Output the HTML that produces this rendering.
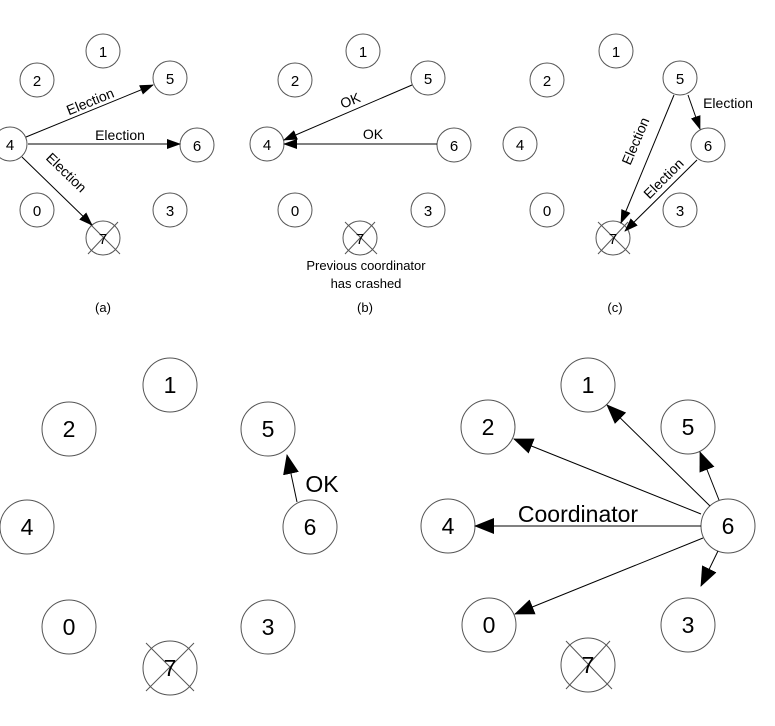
<!DOCTYPE html>
<html><head><style>body{margin:0;background:#fff}svg{display:block}text{font-family:"Liberation Sans",Arial,sans-serif;fill:#000}</style></head>
<body>
<svg width="775" height="726" viewBox="0 0 775 726" xmlns="http://www.w3.org/2000/svg">
<defs>
<marker id="s" markerUnits="userSpaceOnUse" markerWidth="14" markerHeight="12" refX="13" refY="5" orient="auto"><path d="M0,0 L14,5 L0,10 z" fill="#000"/></marker>
<marker id="b" markerUnits="userSpaceOnUse" markerWidth="20" markerHeight="18" refX="19" refY="8" orient="auto"><path d="M0,0 L20,8 L0,16 z" fill="#000"/></marker>
</defs>
<g fill="none" stroke="#555" stroke-width="1">
<!-- (a) -->
<circle cx="103" cy="51" r="17"/><circle cx="37" cy="80" r="17"/><circle cx="170" cy="78" r="17"/>
<circle cx="10" cy="144" r="17"/><circle cx="197" cy="145" r="17"/><circle cx="37" cy="210" r="17"/>
<circle cx="170" cy="210" r="17"/><circle cx="103" cy="238" r="17"/>
<line x1="88" y1="222" x2="120" y2="254"/><line x1="118" y1="222" x2="88" y2="254"/>
<!-- (b) -->
<circle cx="363" cy="51" r="17"/><circle cx="295" cy="80" r="17"/><circle cx="428" cy="78" r="17"/>
<circle cx="267" cy="144" r="17"/><circle cx="454" cy="145" r="17"/><circle cx="295" cy="210" r="17"/>
<circle cx="428" cy="210" r="17"/><circle cx="360" cy="238" r="17"/>
<line x1="345" y1="222" x2="377" y2="254"/><line x1="375" y1="222" x2="345" y2="254"/>
<!-- (c) -->
<circle cx="616" cy="51" r="17"/><circle cx="547" cy="80" r="17"/><circle cx="680" cy="78" r="17"/>
<circle cx="520" cy="144" r="17"/><circle cx="708" cy="145" r="17"/><circle cx="547" cy="210" r="17"/>
<circle cx="680" cy="210" r="17"/><circle cx="613" cy="238" r="17"/>
<line x1="598" y1="222" x2="630" y2="254"/><line x1="628" y1="222" x2="598" y2="254"/>
<!-- bottom left -->
<circle cx="170" cy="385" r="27"/><circle cx="69" cy="429" r="27"/><circle cx="268" cy="429" r="27"/>
<circle cx="27" cy="527" r="27"/><circle cx="310" cy="527" r="27"/><circle cx="69" cy="627" r="27"/>
<circle cx="268" cy="627" r="27"/><circle cx="170" cy="668" r="27"/>
<line x1="146" y1="643" x2="194" y2="691"/><line x1="194" y1="643" x2="146" y2="691"/>
<!-- bottom right -->
<circle cx="588" cy="385" r="27"/><circle cx="488" cy="427" r="27"/><circle cx="688" cy="427" r="27"/>
<circle cx="448" cy="526" r="27"/><circle cx="728" cy="526" r="27"/><circle cx="489" cy="625" r="27"/>
<circle cx="688" cy="625" r="27"/><circle cx="588" cy="665" r="27"/>
<line x1="566" y1="641" x2="612" y2="689"/><line x1="610" y1="641" x2="566" y2="689"/>
</g>
<g stroke="#000" stroke-width="1" fill="none">
<line x1="26" y1="137" x2="153" y2="85" marker-end="url(#s)"/>
<line x1="28" y1="144" x2="180" y2="144" marker-end="url(#s)"/>
<line x1="22" y1="157" x2="92" y2="225" marker-end="url(#s)"/>
<line x1="412" y1="85" x2="284" y2="140" marker-end="url(#s)"/>
<line x1="437" y1="144" x2="284" y2="144" marker-end="url(#s)"/>
<line x1="674" y1="95" x2="621" y2="223" marker-end="url(#s)"/>
<line x1="688" y1="95" x2="700" y2="129" marker-end="url(#s)"/>
<line x1="697" y1="160" x2="625" y2="231" marker-end="url(#s)"/>
<line x1="297" y1="502" x2="287" y2="455" marker-end="url(#b)"/>
<line x1="701" y1="514" x2="514" y2="439" marker-end="url(#b)"/>
<line x1="710" y1="506" x2="607" y2="405" marker-end="url(#b)"/>
<line x1="719" y1="500" x2="700" y2="452" marker-end="url(#b)"/>
<line x1="701" y1="526" x2="475" y2="526" marker-end="url(#b)"/>
<line x1="703" y1="538" x2="515" y2="614" marker-end="url(#b)"/>
<line x1="718" y1="551" x2="701" y2="586" marker-end="url(#b)"/>
</g>
<g font-size="15" text-anchor="middle">
<text x="103" y="57">1</text><text x="37" y="86">2</text><text x="170" y="84">5</text><text x="10" y="150">4</text><text x="197" y="151">6</text><text x="37" y="216">0</text><text x="170" y="216">3</text><text x="103" y="244">7</text>
<text x="363" y="57">1</text><text x="295" y="86">2</text><text x="428" y="84">5</text><text x="267" y="150">4</text><text x="454" y="151">6</text><text x="295" y="216">0</text><text x="428" y="216">3</text><text x="360" y="244">7</text>
<text x="616" y="57">1</text><text x="547" y="86">2</text><text x="680" y="84">5</text><text x="520" y="150">4</text><text x="708" y="151">6</text><text x="547" y="216">0</text><text x="680" y="216">3</text><text x="613" y="244">7</text>
</g>
<g font-size="14" text-anchor="middle">
<text transform="translate(92,106) rotate(-22)">Election</text>
<text x="120" y="140">Election</text>
<text transform="translate(63,176) rotate(44)">Election</text>
<text transform="translate(352,105) rotate(-22)">OK</text>
<text x="373" y="139">OK</text>
<text transform="translate(640,143) rotate(-67)">Election</text>
<text x="728" y="108">Election</text>
<text transform="translate(667,182) rotate(-45)">Election</text>
<text x="366" y="270" font-size="13">Previous coordinator</text>
<text x="366" y="288" font-size="13">has crashed</text>
<text x="103" y="312" font-size="13">(a)</text>
<text x="365" y="312" font-size="13">(b)</text>
<text x="615" y="312" font-size="13">(c)</text>
</g>
<g font-size="23" text-anchor="middle">
<text x="170" y="393">1</text><text x="69" y="437">2</text><text x="268" y="437">5</text><text x="27" y="535">4</text><text x="310" y="535">6</text><text x="69" y="635">0</text><text x="268" y="635">3</text><text x="170" y="676">7</text>
<text x="588" y="393">1</text><text x="488" y="435">2</text><text x="688" y="435">5</text><text x="448" y="534">4</text><text x="728" y="534">6</text><text x="489" y="633">0</text><text x="688" y="633">3</text><text x="588" y="673">7</text>
<text x="322" y="492">OK</text>
<text x="578" y="522">Coordinator</text>
</g>
</svg>
</body></html>
